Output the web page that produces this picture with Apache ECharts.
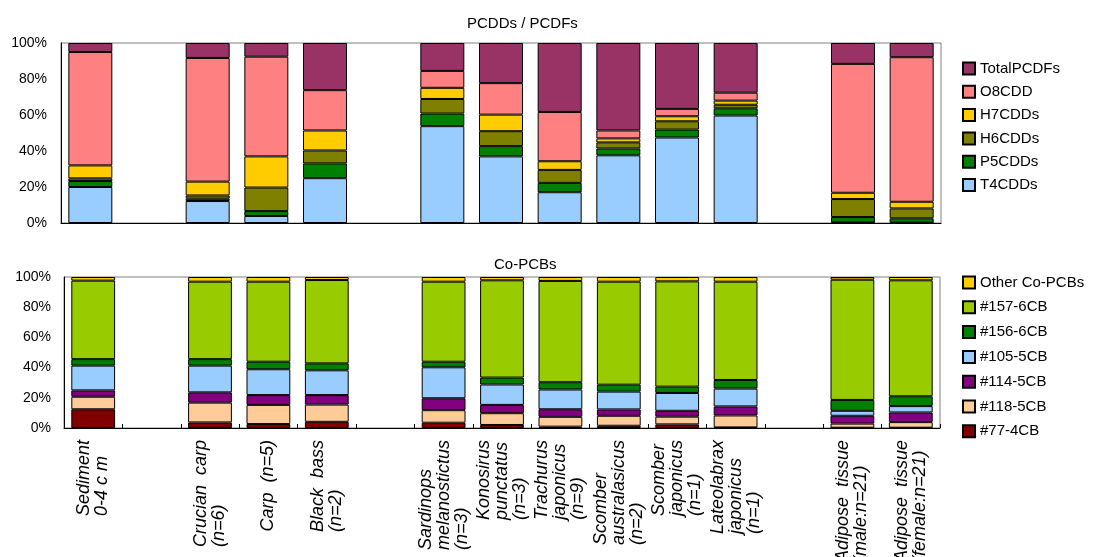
<!DOCTYPE html>
<html>
<head>
<meta charset="utf-8">
<script src="https://cdn.jsdelivr.net/npm/echarts@6/dist/echarts.min.js"></script>
<style>html,body{margin:0;padding:0;background:#fff}#c{width:1099px;height:557px}</style>
</head>
<body>
<div id="c"></div>
<script>
// Categories (gaps are blank categories)
const categories = ["Sediment\n0-4 c m", "", "Crucian  carp\n(n=6)", "Carp  (n=5)", "Black  bass\n(n=2)", " ",
  "Sardinops\nmelanostictus\n(n=3)", "Konosirus\npunctatus\n(n=3)", "Trachurus\njaponicus\n(n=9)",
  "Scomber\naustralasicus\n(n=2)", "Scomber\njaponicus\n(n=1)", "Lateolabrax\njaponicus\n(n=1)", "  ",
  "Adipose  tissue\n(male:n=21)", "Adipose  tissue\n(female:n=21)"];

// PCDDs / PCDFs composition (%)
const T4CDDs     = [20.0, null, 12.2, 3.9, 24.9, null, 53.8, 37.0, 17.1, 37.6, 47.5, 59.7, null, 0.4, 0.2];
const P5CDDs     = [3.3, null, 1.3, 2.7, 8.2, null, 7.0, 5.7, 5.2, 3.8, 4.4, 4.0, null, 2.9, 2.4];
const H6CDDs     = [1.5, null, 1.8, 13.1, 7.2, null, 8.1, 8.3, 7.2, 3.4, 4.6, 2.0, null, 10.0, 5.5];
const H7CDDs     = [7.2, null, 7.7, 17.3, 11.1, null, 6.2, 9.2, 4.8, 2.2, 2.8, 2.3, null, 3.5, 3.7];
const O8CDD      = [63.0, null, 68.7, 55.4, 22.4, null, 9.4, 17.5, 27.4, 4.4, 4.1, 4.4, null, 71.6, 80.3];
const TotalPCDFs = [5.0, null, 8.3, 7.6, 26.2, null, 15.5, 22.3, 38.3, 48.6, 36.6, 27.6, null, 11.6, 7.9];

// Co-PCBs composition (%)
const CB77   = [12.4, null, 3.7, 2.6, 4.1, null, 3.5, 2.0, 0.9, 1.5, 2.4, 0.4, null, 0.2, 0.2];
const CB118  = [8.3, null, 13.1, 12.7, 11.4, null, 8.3, 7.8, 6.5, 6.6, 5.1, 7.9, null, 2.7, 3.7];
const CB114  = [4.2, null, 6.8, 6.5, 6.3, null, 7.9, 5.5, 5.0, 4.2, 3.9, 6.0, null, 5.2, 6.4];
const CB105  = [16.4, null, 17.7, 17.1, 16.4, null, 20.5, 13.5, 13.1, 11.8, 11.8, 11.8, null, 3.3, 4.2];
const CB156  = [4.3, null, 4.3, 5.0, 4.6, null, 3.7, 4.6, 4.8, 4.6, 4.2, 5.7, null, 7.2, 6.5];
const CB157  = [52.0, null, 51.3, 53.0, 55.2, null, 53.0, 64.4, 67.1, 68.2, 69.7, 65.1, null, 79.6, 76.8];
const OtherCoPCBs = [2.4, null, 3.1, 3.1, 2.0, null, 3.1, 2.2, 2.6, 3.1, 2.9, 3.1, null, 1.8, 2.2];

const yTicks = [0, 20, 40, 60, 80, 100];

const FONT = "'Liberation Sans', Arial, sans-serif";

const topSeries = [
  {name: 'T4CDDs', data: T4CDDs, color: '#99CCFF'},
  {name: 'P5CDDs', data: P5CDDs, color: '#008000'},
  {name: 'H6CDDs', data: H6CDDs, color: '#808000'},
  {name: 'H7CDDs', data: H7CDDs, color: '#FFCC00'},
  {name: 'O8CDD', data: O8CDD, color: '#FF8080'},
  {name: 'TotalPCDFs', data: TotalPCDFs, color: '#993366'}
];
const botSeries = [
  {name: '#77-4CB', data: CB77, color: '#800000'},
  {name: '#118-5CB', data: CB118, color: '#FFCC99'},
  {name: '#114-5CB', data: CB114, color: '#800080'},
  {name: '#105-5CB', data: CB105, color: '#99CCFF'},
  {name: '#156-6CB', data: CB156, color: '#008000'},
  {name: '#157-6CB', data: CB157, color: '#99CC00'},
  {name: 'Other Co-PCBs', data: OtherCoPCBs, color: '#FFCC00'}
];

function mkSeries(list, idx, stack) {
  return list.map(s => ({
    name: s.name, type: 'bar', stack: stack,
    xAxisIndex: idx, yAxisIndex: idx,
    data: s.data, barWidth: '75%',
    itemStyle: {color: s.color, borderColor: '#000', borderWidth: 1},
    emphasis: {disabled: true}
  }));
}

function yAxis(gi, margin) {
  return {
    type: 'value', gridIndex: gi, min: yTicks[0], max: yTicks[yTicks.length - 1], interval: 20,
    axisLine: {show: true, lineStyle: {color: '#000', width: 1}},
    axisTick: {show: false}, splitLine: {show: false},
    axisLabel: {formatter: '{value}%', color: '#000', fontSize: 14, fontFamily: FONT, margin: margin}
  };
}

const chart = echarts.init(document.getElementById('c'), null, {renderer: 'canvas'});
chart.setOption({
  animation: false,
  backgroundColor: '#fff',
  title: [
    {text: 'PCDDs / PCDFs', left: 462, top: 11, textStyle: {fontSize: 15, fontWeight: 'normal', color: '#000', fontFamily: FONT}},
    {text: 'Co-PCBs', left: 489, top: 252, textStyle: {fontSize: 15, fontWeight: 'normal', color: '#000', fontFamily: FONT}}
  ],
  grid: [
    {left: 61, top: 43, width: 880, height: 180, show: true, borderColor: '#808080', borderWidth: 1, outerBoundsMode: 'none'},
    {left: 64, top: 277, width: 876, height: 151, show: true, borderColor: '#808080', borderWidth: 1, outerBoundsMode: 'none'}
  ],
  legend: [
    {data: topSeries.map(s => s.name).reverse(), orient: 'vertical', left: 962, top: 61, padding: 0,
     itemWidth: 12, itemHeight: 12, itemGap: 8.3, icon: 'rect',
     textStyle: {fontSize: 15, color: '#000', fontFamily: FONT}},
    {data: botSeries.map(s => s.name).reverse(), orient: 'vertical', left: 962, top: 275, padding: 0,
     itemWidth: 12, itemHeight: 12, itemGap: 9.8, icon: 'rect',
     textStyle: {fontSize: 15, color: '#000', fontFamily: FONT}}
  ],
  xAxis: [
    {type: 'category', gridIndex: 0, data: categories,
     axisLine: {lineStyle: {color: '#000'}}, axisTick: {show: false}, axisLabel: {show: false}},
    {type: 'category', gridIndex: 1, data: categories,
     axisLine: {lineStyle: {color: '#000'}},
     axisTick: {show: true, inside: true, length: 4, lineStyle: {color: '#000'}},
     axisLabel: {
       interval: 0, rotate: 90, margin: 12, color: '#000',
       formatter: v => v.trim() === '' ? '' : v.split('\n').map(l => '{a|' + l + '}').join('\n'),
       rich: {a: {align: 'left', fontStyle: 'italic', fontSize: 18, fontFamily: FONT, color: '#000', lineHeight: 18}}
     }}
  ],
  yAxis: [yAxis(0, 14), yAxis(1, 13)],
  series: mkSeries(topSeries, 0, 'pcdd').concat(mkSeries(botSeries, 1, 'pcb'))
});
</script>
</body>
</html>
